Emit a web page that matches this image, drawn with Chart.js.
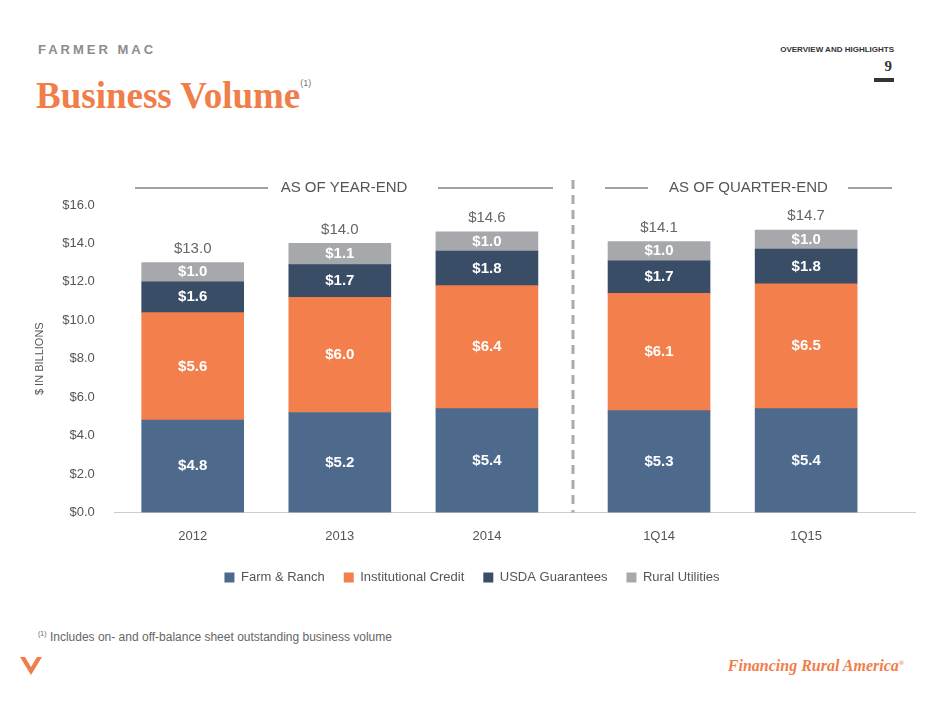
<!DOCTYPE html>
<html><head><meta charset="utf-8">
<script src="https://cdn.jsdelivr.net/npm/chart.js@4"></script>
<style>
body{margin:0;width:940px;height:705px;position:relative;background:#fff;font-family:"Liberation Sans",Arial,sans-serif;overflow:hidden}
.abs{position:absolute}
</style></head><body>
<div class="abs" style="left:38px;top:42px;font-size:13px;font-weight:bold;letter-spacing:3px;color:#8a8c8f">FARMER MAC</div>
<div class="abs" style="left:36px;top:74px;font-family:'Liberation Serif',serif;font-weight:bold;font-size:37px;color:#f07e4a">Business Volume<sup style="font-size:9px;color:#777;font-family:'Liberation Sans';font-weight:normal;vertical-align:22px">(1)</sup></div>
<div class="abs" style="right:46px;top:45px;font-size:8px;font-weight:bold;color:#333">OVERVIEW AND HIGHLIGHTS</div>
<div class="abs" style="right:48px;top:58px;font-family:'Liberation Serif',serif;font-weight:bold;font-size:15px;color:#333">9</div>
<div class="abs" style="right:46px;top:78px;width:20px;height:4px;background:#333"></div>
<div class="abs" style="left:38px;top:630px;font-size:12px;color:#666"><sup style="font-size:7px">(1)</sup> Includes on- and off-balance sheet outstanding business volume</div>
<div class="abs" style="right:36px;top:657px;font-family:'Liberation Serif',serif;font-style:italic;font-weight:bold;font-size:16px;color:#f07e4a">Financing Rural America<sup style="font-size:7px">®</sup></div>
<svg class="abs" style="left:20px;top:657px" width="22" height="20"><path d="M0 0 L11 18 L22 0 L17 0 L11 10 L5 0Z" fill="#f07e4a"/></svg>
<div class="abs" style="left:0;top:164px;width:940px;height:430px"><canvas id="c"></canvas></div>
<script>
const categories = ['2012', '2013', '2014', '1Q14', '1Q15'];
const positions = [0, 1, 2, 3.17, 4.17];
const farmRanch = [4.8, 5.2, 5.4, 5.3, 5.4];
const institutional = [5.6, 6.0, 6.4, 6.1, 6.5];
const usda = [1.6, 1.7, 1.8, 1.7, 1.8];
const rural = [1.0, 1.1, 1.0, 1.0, 1.0];
const totals = [13.0, 14.0, 14.6, 14.1, 14.7];
const yTicks = [0, 2, 4, 6, 8, 10, 12, 14, 16];

function ds(label, vals, color) {
    return { label: label, data: vals.map((v, i) => ({ x: positions[i], y: v })), backgroundColor: color, barThickness: 102 };
}

// etiquetas, encabezados y línea punteada
const overlay = {
    id: 'overlay',
    afterDatasetsDraw(chart) {
        const c = chart.ctx, xs = chart.scales.x, ys = chart.scales.y;
        c.save();
        c.textAlign = 'center'; c.textBaseline = 'middle';
        chart.data.datasets.forEach((d, di) => {
            chart.getDatasetMeta(di).data.forEach((b, i) => {
                c.fillStyle = '#fff';
                c.font = 'bold 15px "Liberation Sans"';
                c.fillText('$' + d.data[i].y.toFixed(1), b.x, (b.y + b.base) / 2);
            });
        });
        c.fillStyle = '#666'; c.font = '15px "Liberation Sans"';
        totals.forEach((t, i) => c.fillText('$' + t.toFixed(1), xs.getPixelForValue(positions[i]), ys.getPixelForValue(t) - 14));
        const xd = xs.getPixelForValue(2.585);
        const hy = 188 - 164;
        c.strokeStyle = '#aaa'; c.lineWidth = 3; c.setLineDash([9, 6]);
        c.beginPath(); c.moveTo(xd, hy - 8); c.lineTo(xd, ys.bottom); c.stroke();
        c.setLineDash([]); c.lineWidth = 1; c.strokeStyle = '#444';
        c.font = '15px "Liberation Sans"'; c.fillStyle = '#555';
        c.fillText('AS OF YEAR-END', (135 + 553) / 2, hy);
        c.fillText('AS OF QUARTER-END', (605 + 892) / 2, hy);
        [[135, 268], [438, 553], [605, 648], [848, 892]].forEach(s => {
            c.beginPath(); c.moveTo(s[0], hy); c.lineTo(s[1], hy); c.stroke();
        });
        c.restore();
    }
};

new Chart(document.getElementById('c'), {
    type: 'bar',
    data: { datasets: [
        ds('Farm & Ranch', farmRanch, '#4d6a8c'),
        ds('Institutional Credit', institutional, '#f27f4c'),
        ds('USDA Guarantees', usda, '#3a4d67'),
        ds('Rural Utilities', rural, '#a6a8ab')
    ] },
    options: {
        responsive: true, maintainAspectRatio: false, animation: false,
        layout: { padding: { left: 29, right: 25, top: 41 } },
        plugins: {
            tooltip: { enabled: false },
            legend: { position: 'bottom', labels: { boxWidth: 10, boxHeight: 10, padding: 19, color: '#555', font: { size: 13, family: 'Liberation Sans' } } }
        },
        scales: {
            x: {
                type: 'linear', stacked: true, min: -0.53, max: 4.91, offset: false, bounds: 'ticks',
                afterDataLimits: s => { s.min = -0.53; s.max = 4.91; },
                afterBuildTicks: s => { s.ticks = positions.map(v => ({ value: v })); },
                ticks: { callback: (v, i) => categories[i], color: '#555', font: { size: 13 }, padding: 8 },
                grid: { display: false }, border: { color: '#ccc' }
            },
            y: {
                stacked: true, min: 0, max: 16,
                afterBuildTicks: s => { s.ticks = yTicks.map(v => ({ value: v })); },
                ticks: { callback: v => '$' + v.toFixed(1), color: '#555', font: { size: 13 }, padding: 12 },
                grid: { display: false }, border: { display: false },
                title: { display: true, text: '$ IN BILLIONS', color: '#555', font: { size: 11 } }
            }
        }
    },
    plugins: [overlay]
});
</script>
</body></html>
